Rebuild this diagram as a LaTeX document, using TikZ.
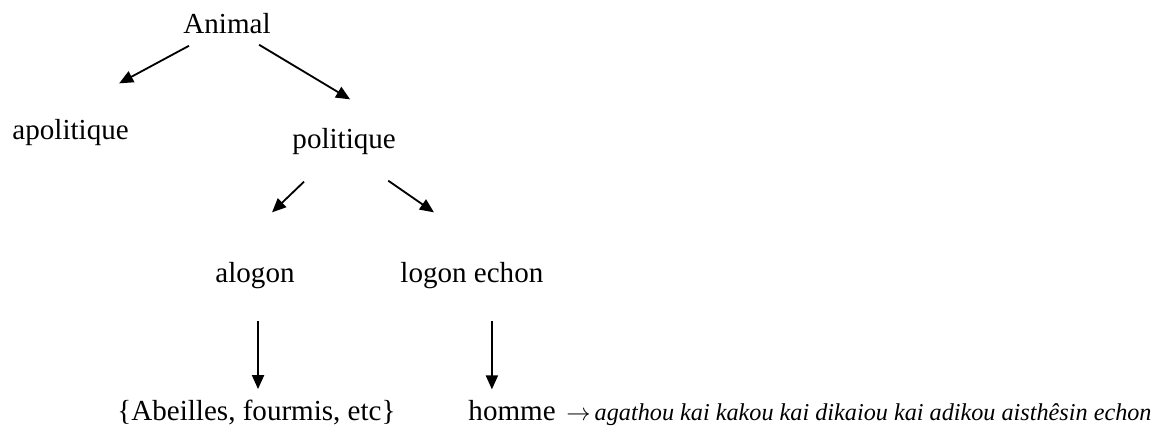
\documentclass[tikz,border=0pt]{standalone}
\usepackage{fontspec}
\setmainfont{Liberation Serif}
\usetikzlibrary{arrows.meta}

\begin{document}
\begin{tikzpicture}[x=0.413pt, y=-0.413pt,
  mot/.style={font=\fontsize{12}{14}\selectfont, inner sep=0pt, anchor=base west},
  glose/.style={font=\fontsize{10}{12}\selectfont, inner sep=0pt, anchor=base west},
  fleche/.style={-{Triangle[length=5.8pt,width=5pt]}, line width=0.75pt}]

\useasboundingbox (0,0) rectangle (1159,432);

% ------------------------------------------------------

\node[mot] (animal) at (183,33) {Animal};

\node[mot] (apolitique) at (12,139) {apolitique};

\node[mot] (politique) at (292,148) {politique};

\node[mot] (alogon) at (215,282) {alogon};

\node[mot] (logon) at (400,282) {logon echon};

\node[mot] (abeilles) at (117,420) {\{Abeilles, fourmis, etc\}};

\node[mot] (homme) at (468,420) {homme};

\node[glose] (glose) at (566,420) {$\rightarrow$\,\textit{agathou kai kakou kai dikaiou kai adikou aisthêsin echon}};

% ------------------------------------------------------

\draw[fleche] ([shift={(6,12)}]animal.south west) -- ([shift={(-10,-35)}]apolitique.north east);

\draw[fleche] ([shift={(-12,11)}]animal.south east) -- ([shift={(6,-28)}]politique.north);

\draw[fleche] ([shift={(12,27)}]politique.south west) -- ([shift={(17,-49)}]alogon.north);

\draw[fleche] ([shift={(-8,26)}]politique.south east) -- ([shift={(34,-49)}]logon.north west);

\draw[fleche] ([shift={(3,32)}]alogon.south) -- ([shift={(3,-10)}]alogon.south |- abeilles.north);

\draw[fleche] ([shift={(20,32)}]logon.south) -- ([shift={(20,-10)}]logon.south |- homme.north);

\end{tikzpicture}
\end{document}
